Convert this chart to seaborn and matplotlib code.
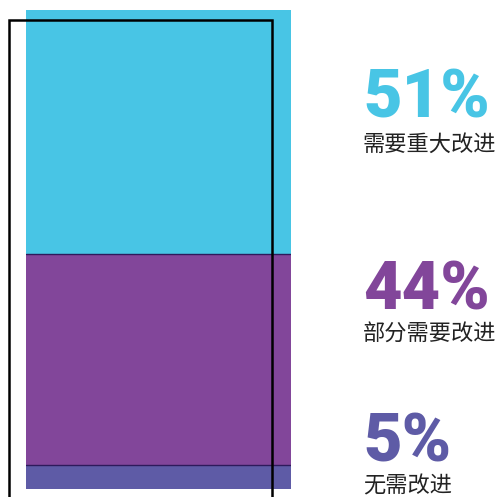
import matplotlib
matplotlib.use("Agg")
import matplotlib.pyplot as plt
import seaborn as sns
import pandas as pd
from matplotlib.patches import Rectangle

sns.set_theme(style="white")
plt.rcParams['font.family'] = ['Noto Sans CJK SC', 'DejaVu Sans']

# Data (stack order: bottom -> top)
categories = ["无需改进", "部分需要改进", "需要重大改进"]
values = [5, 44, 51]
labels = ["5%", "44%", "51%"]
colors = ["#5E5BA6", "#82469A", "#48C5E5"]

W, H = 500, 497
fig = plt.figure(figsize=(W / 100, H / 100), dpi=100)
fig.patch.set_facecolor("white")

# axes for the stacked bar (pixel box x 26-291, y 10-489)
ax = fig.add_axes([26 / W, 1 - 489 / H, 265 / W, 479 / H])

cum = []
s = 0
for v in values:
    s += v
    cum.append(s)

# draw cumulative bars largest first so smaller ones sit on top
for i in reversed(range(len(values))):
    df = pd.DataFrame({"x": ["all"], "y": [cum[i]]})
    sns.barplot(data=df, x="x", y="y", color=colors[i], width=1.0,
                saturation=1, ax=ax, linewidth=0, edgecolor="none")
for c in cum[:-1]:
    ax.axhline(c, color="#2E1A5C", linewidth=1.0)

ax.set_xlim(-0.5, 0.5)
ax.set_ylim(0, sum(values))
ax.axis("off")

# black outline rectangle offset from bar
rect = Rectangle((8.5 / W, -0.05), (271.5 - 8.5) / W, 1.05 - 20 / H,
                 transform=fig.transFigure, fill=False, edgecolor="black",
                 linewidth=1.8, zorder=10)
fig.patches.append(rect)

# labels on the right
big_y = [462, 310, 117]   # baseline pixel of big numbers
small_y = [492, 340, 151]  # baseline of category text
for i in range(len(values)):
    fig.text(363 / W, 1 - big_y[i] / H, labels[i], color=colors[i],
             fontsize=48, fontweight=900, family=['Roboto', 'DejaVu Sans'],
             ha="left", va="baseline")
    fig.text(363 / W, 1 - small_y[i] / H, categories[i], color="#222222",
             fontsize=16, ha="left", va="baseline")

fig.savefig("out.png", dpi=100, facecolor="white")
